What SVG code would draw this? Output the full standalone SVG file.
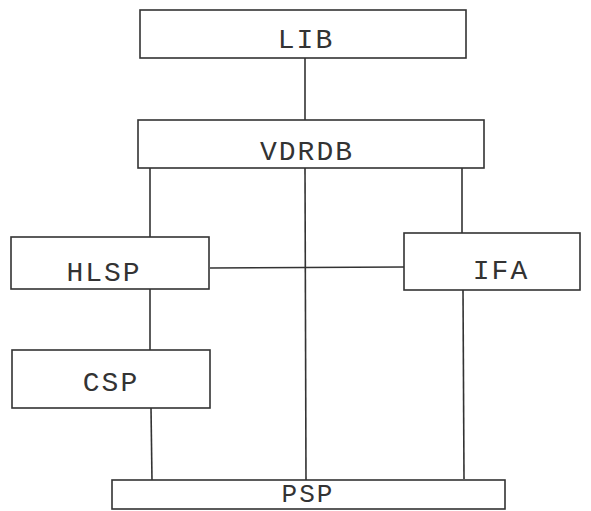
<svg xmlns="http://www.w3.org/2000/svg" width="591" height="511" viewBox="0 0 591 511">
<style>
.box{fill:#fff;stroke:#333;stroke-width:1.6}
.lbl{font-family:"Liberation Mono","DejaVu Sans Mono",monospace;font-size:28px;letter-spacing:2px;fill:#333;text-anchor:middle}
.ln{stroke:#333;stroke-width:1.6;fill:none}
</style>
<rect width="591" height="511" fill="#fff"/>
<g id="connectors">
<line class="ln" x1="305" y1="58" x2="305" y2="120"/>
<line class="ln" x1="150" y1="168" x2="150" y2="237"/>
<line class="ln" x1="462" y1="168" x2="462" y2="233"/>
<line class="ln" x1="305" y1="168" x2="306" y2="480"/>
<line class="ln" x1="210" y1="268" x2="404" y2="267"/>
<line class="ln" x1="150" y1="289" x2="150" y2="350"/>
<line class="ln" x1="151" y1="408" x2="152" y2="481"/>
<line class="ln" x1="463" y1="290" x2="464" y2="479"/>
</g>
<g id="LIB"><rect class="box" x="140" y="10" width="326" height="48"/><text class="lbl" x="306" y="48">LIB</text></g>
<g id="VDRDB"><rect class="box" x="138" y="120" width="346" height="48"/><text class="lbl" x="307" y="160">VDRDB</text></g>
<g id="HLSP"><rect class="box" x="11" y="237" width="198" height="52"/><text class="lbl" x="104" y="281">HLSP</text></g>
<g id="IFA"><rect class="box" x="404" y="233" width="176" height="57"/><text class="lbl" x="501" y="279">IFA</text></g>
<g id="CSP"><rect class="box" x="12" y="350" width="198" height="58"/><text class="lbl" x="111" y="391">CSP</text></g>
<g id="PSP"><rect class="box" x="112" y="480" width="393" height="29"/><text class="lbl" x="308" y="502" style="font-size:26px">PSP</text></g>
</svg>
